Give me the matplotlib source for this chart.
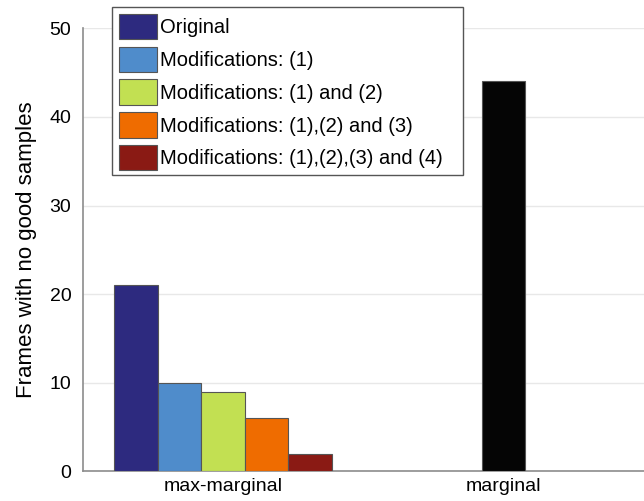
import numpy as np
import matplotlib
matplotlib.use('Agg')
import matplotlib.pyplot as plt
from matplotlib.patches import Rectangle

plt.rcParams['font.family'] = ['Liberation Sans', 'DejaVu Sans']

categories = ['max-marginal', 'marginal']
series_names = ['Original', 'Modifications: (1)', 'Modifications: (1) and (2)',
                'Modifications: (1),(2) and (3)', 'Modifications: (1),(2),(3) and (4)']
maxmarginal_vals = [21, 10, 9, 6, 2]
marginal_vals = [44]
colors = ['#2d2a7f', '#4f8ccb', '#c2e052', '#ef6c00', '#8a1a14']
marginal_color = '#050505'
yticks = [0, 10, 20, 30, 40, 50]

W, H = 644, 501
fig = plt.figure(figsize=(W / 100, H / 100), dpi=100)
ax = fig.add_axes([82.5 / W, 1 - 471.3 / H, (W - 82.5) / W, (471.3 - 28.3) / H])

x = np.arange(1, len(categories) + 1)
w = 0.155
n = len(maxmarginal_vals)
for i, (v, c, name) in enumerate(zip(maxmarginal_vals, colors, series_names)):
    ax.bar(x[0] + (i - (n - 1) / 2) * w, v, width=w, color=c,
           edgecolor='#555555', linewidth=0.8, label=name, zorder=3)
ax.bar(x[1], marginal_vals[0], width=w, color=marginal_color,
       edgecolor='#555555', linewidth=0.8, zorder=3)

ax.set_xlim(0.5, 2.5)
ax.set_ylim(0, 50)
ax.set_xticks(x)
ax.set_xticklabels(categories)
ax.set_yticks(yticks)
ax.tick_params(axis='both', length=0, labelsize=14)
ax.tick_params(axis='y', pad=8)
ax.tick_params(axis='x', pad=5)
ax.yaxis.grid(True, color='#e8e8e8', linewidth=1, zorder=0)
ax.set_axisbelow(True)

for s in ['top', 'right']:
    ax.spines[s].set_visible(False)
for s in ['left', 'bottom']:
    ax.spines[s].set_color('#8c8c8c')
    ax.spines[s].set_linewidth(1.2)

ax.set_ylabel('Frames with no good samples', fontsize=16, labelpad=9)

# legend box (MATLAB-style, extra room on the right)
lx0, ly0, lx1, ly1 = 112.3, 7.3, 463, 175
ax.add_patch(Rectangle((lx0 / W, 1 - ly1 / H), (lx1 - lx0) / W, (ly1 - ly0) / H,
                       transform=fig.transFigure, facecolor='white', clip_on=False,
                       edgecolor='#555555', linewidth=1.0, zorder=4))
leg = ax.legend(loc='upper left', bbox_to_anchor=(lx0 / W, 1 - ly0 / H),
                bbox_transform=fig.transFigure, borderaxespad=0, fontsize=14.5,
                frameon=False, handlelength=1.89, handleheight=1.57,
                handletextpad=0.15, labelspacing=0.36, borderpad=0.33)
leg.set_zorder(5)

fig.savefig('out.png', dpi=100)
